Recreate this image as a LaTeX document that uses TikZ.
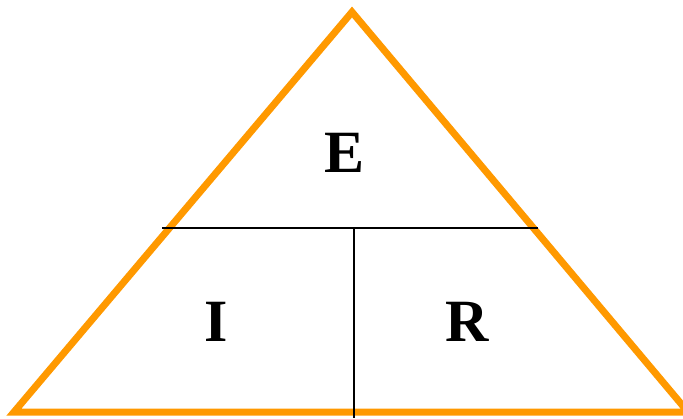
\documentclass[tikz,border=0pt]{standalone}
\usepackage{fontspec}
\setmainfont{Liberation Serif}[BoldFont={Liberation Serif Bold}]
\usetikzlibrary{positioning}
\definecolor{ohmorange}{RGB}{255,153,0}

\begin{document}
\begin{tikzpicture}[
  x=1pt, y=-1pt,
  rim/.style={draw=ohmorange, line width=7pt, line join=miter},
  divider/.style={draw=black, line width=1.6pt},
  letter/.style={font=\fontsize{60}{72}\selectfont\bfseries, inner sep=0pt}
]
\useasboundingbox (0,0) rectangle (683,418);
\begin{scope}
\clip (0,0) rectangle (683,418);
\coordinate (apex) at (352,12);
\coordinate (left) at (14,412);
\coordinate (right) at (688,412);
\draw[rim] (apex) -- (left) -- (right) -- cycle;

\coordinate (barW) at (162,228);
\coordinate (barE) at (538,228);
\coordinate (barM) at (354,228);
\coordinate (foot) at (354,418);
\draw[divider] (barW) -- (barE);
\draw[divider] (barM) -- (foot);
\end{scope}

\node[letter] (volt) at (344.5,153) {E};
\node[letter] (amp) at (216.5,322) {I};
\node[letter] (ohm) at (467,322) {R};
\end{tikzpicture}
\end{document}
